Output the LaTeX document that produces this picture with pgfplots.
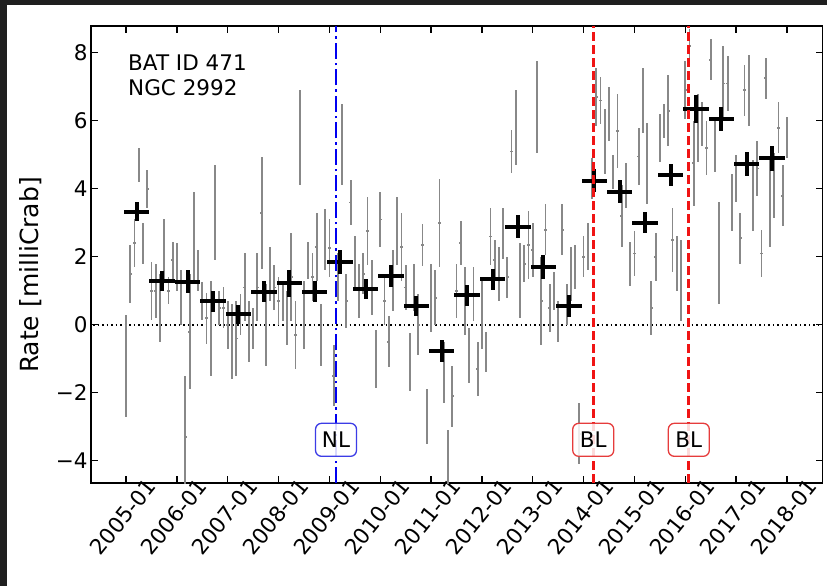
\documentclass[border=0pt]{standalone}
\usepackage{fontspec}
\setmainfont{DejaVu Sans}
\usepackage{pgfplots}
\pgfplotsset{compat=1.18}
\usepackage{pgfplotstable}

\definecolor{bgdark}{RGB}{31,31,31}
\definecolor{errgray}{RGB}{136,136,136}
\definecolor{nlbox}{RGB}{60,60,230}
\definecolor{blbox}{RGB}{230,60,60}
\definecolor{lineblue}{RGB}{0,0,240}
\definecolor{linered}{RGB}{240,20,20}

% monthly rates
\pgfplotstableread{
x y e
2005.000 -1.2 1.5
2005.083 1.5 0.85
2005.167 2.4 0.7
2005.250 4.7 0.5
2005.333 2.4 0.6
2005.417 4.0 0.55
2005.500 1.0 0.85
2005.583 1.0 0.8
2005.667 0.5 1.0
2005.750 2.2 0.9
2005.833 1.0 0.4
2005.917 1.9 0.55
2006.000 1.7 0.7
2006.083 0.8 0.8
2006.167 -3.3 1.8
2006.250 -0.2 1.7
2006.333 2.6 1.3
2006.417 1.6 0.6
2006.500 0.7 0.55
2006.583 0.2 0.75
2006.667 -0.1 1.4
2006.750 3.3 1.4
2006.833 0.5 0.5
2006.917 0.5 0.6
2007.000 0.0 0.7
2007.083 -0.5 1.1
2007.167 -0.4 1.1
2007.250 0.3 0.6
2007.333 1.1 1.0
2007.417 -0.2 0.9
2007.500 -0.1 0.6
2007.583 1.1 1.0
2007.667 3.3 1.65
2007.750 0.0 1.2
2007.833 1.5 0.8
2007.917 1.1 0.65
2008.000 0.7 0.7
2008.083 0.7 0.6
2008.167 0.2 0.8
2008.250 1.4 1.3
2008.333 -0.3 1.0
2008.417 5.5 1.4
2008.500 0.3 1.0
2008.583 1.9 0.55
2008.667 1.4 0.7
2008.750 2.3 1.0
2008.833 -0.3 0.9
2008.917 2.5 0.9
2009.000 2.25 0.85
2009.083 -1.5 0.9
2009.167 1.4 0.7
2009.250 5.3 1.2
2009.333 0.7 0.8
2009.417 3.6 0.65
2009.500 1.8 0.8
2009.583 1.0 0.8
2009.667 1.5 0.6
2009.750 2.75 1.0
2009.833 1.1 0.8
2009.917 -1.0 0.85
2010.000 3.1 0.8
2010.083 0.7 0.7
2010.167 -0.5 0.75
2010.250 1.3 0.9
2010.333 2.75 1.0
2010.417 2.3 1.0
2010.500 1.1 0.65
2010.583 -1.1 0.85
2010.667 1.1 0.7
2010.750 0.0 0.9
2010.833 2.35 0.62
2010.917 -2.7 0.8
2011.000 0.8 1.0
2011.083 0.8 0.8
2011.167 3.0 1.3
2011.250 -1.4 0.9
2011.333 -4.0 0.9
2011.417 -2.1 0.9
2011.500 1.0 0.8
2011.583 2.4 0.65
2011.667 0.7 1.0
2011.750 -0.9 0.8
2011.833 0.9 0.8
2011.917 -1.3 0.8
2012.000 0.3 1.0
2012.083 -0.8 0.6
2012.167 2.6 0.85
2012.250 1.9 0.6
2012.333 1.5 0.8
2012.417 2.7 0.75
2012.500 1.4 0.6
2012.583 5.1 0.62
2012.667 5.8 1.1
2012.750 1.3 1.1
2012.833 1.8 0.55
2012.917 2.35 1.0
2013.000 2.2 0.8
2013.083 6.4 1.35
2013.167 0.7 1.3
2013.250 2.8 0.75
2013.333 0.5 0.7
2013.417 1.0 0.55
2013.500 0.1 0.6
2013.583 2.8 0.75
2013.667 0.6 0.6
2013.750 1.5 0.8
2013.833 1.7 0.65
2013.917 -3.2 0.9
2014.000 2.0 0.6
2014.083 2.3 0.7
2014.167 4.3 0.6
2014.250 6.7 0.85
2014.333 6.6 0.7
2014.417 5.4 0.95
2014.500 6.2 0.8
2014.583 4.5 0.5
2014.667 5.7 1.1
2014.750 3.2 0.9
2014.833 4.1 0.65
2014.917 1.8 0.65
2015.000 2.1 0.65
2015.083 4.95 0.85
2015.167 6.6 0.95
2015.250 4.75 1.2
2015.333 0.5 0.8
2015.417 2.0 0.7
2015.500 5.5 0.7
2015.583 6.0 0.5
2015.667 6.3 1.05
2015.750 2.5 0.95
2015.833 1.8 0.8
2015.917 1.3 1.2
2016.000 6.9 0.85
2016.083 8.2 0.5
2016.167 4.75 1.25
2016.250 5.8 1.0
2016.333 5.9 0.65
2016.417 5.2 0.8
2016.500 7.8 0.6
2016.583 5.3 0.8
2016.667 2.1 1.5
2016.750 7.1 1.1
2016.833 7.1 0.8
2016.917 3.6 0.85
2017.000 4.3 0.7
2017.083 2.55 0.75
2017.167 6.9 0.75
2017.250 6.9 1.05
2017.333 3.8 1.05
2017.417 4.6 0.8
2017.500 2.1 0.7
2017.583 7.25 0.6
2017.667 3.6 1.3
2017.750 4.1 0.95
2017.833 5.8 0.75
2017.917 3.8 0.9
2018.000 5.5 0.6
}\monthly

% half-year bins
\pgfplotstableread{
x y e
2005.21 3.33 0.27
2005.71 1.29 0.30
2006.21 1.27 0.33
2006.71 0.69 0.30
2007.21 0.31 0.28
2007.71 0.98 0.30
2008.21 1.22 0.40
2008.71 0.98 0.30
2009.21 1.84 0.35
2009.71 1.05 0.30
2010.21 1.44 0.33
2010.71 0.56 0.30
2011.21 -0.76 0.33
2011.71 0.87 0.30
2012.21 1.34 0.30
2012.71 2.89 0.33
2013.21 1.70 0.35
2013.71 0.56 0.33
2014.21 4.24 0.33
2014.71 3.92 0.35
2015.21 3.01 0.30
2015.71 4.40 0.33
2016.21 6.35 0.40
2016.71 6.06 0.35
2017.21 4.74 0.35
2017.71 4.90 0.37
}\binned

\begin{document}
\begin{tikzpicture}
\fill[bgdark] (-91pt,-103pt) rectangle (736pt,483pt);
\fill[white] (-84pt,-103pt) rectangle (736pt,478pt);
\useasboundingbox (-91pt,-103pt) rectangle (736pt,483pt);
\begin{axis}[
  at={(0pt,0pt)}, anchor=south west,
  width=731.5pt, height=457pt, scale only axis,
  xmin=2004.31, xmax=2018.70, ymin=-4.65, ymax=8.79,
  xtick={2005,2006,2007,2008,2009,2010,2011,2012,2013,2014,2015,2016,2017,2018},
  xticklabels={2005-01,2006-01,2007-01,2008-01,2009-01,2010-01,2011-01,2012-01,2013-01,2014-01,2015-01,2016-01,2017-01,2018-01},
  ytick={-4,-2,0,2,4,6,8},
  yticklabels={−4,−2,0,2,4,6,8},
  tick align=inside,
  major tick length=7pt,
  tick style={line width=1.2pt, black},
  axis line style={line width=1.2pt},
  tick label style={font=\fontsize{21.5}{25}\selectfont},
  xticklabel style={xshift=-3pt, yshift=-34pt, rotate=51, anchor=center},
  ylabel={Rate [milliCrab]},
  ylabel style={font=\fontsize{25}{30}\selectfont, at={(axis description cs:-0.083,0.455)}, anchor=center},
  clip=true,
]
\addplot[black, line width=1.5pt, dash pattern=on 1.5pt off 3pt] coordinates {(2004,0) (2019,0)};

\addplot[draw=none, mark=none,
  error bars/.cd, x dir=both, x fixed=0.025, y dir=both, y explicit, error mark=none,
  error bar style={draw=errgray, solid, line width=1.8pt}]
  table[x=x, y=y, y error=e] {\monthly};

\addplot[draw=none, mark=none,
  error bars/.cd, x dir=both, x fixed=0.25, y dir=both, y explicit, error mark=none,
  error bar style={draw=black, solid, line width=4pt}]
  table[x=x, y=y, y error=e] {\binned};

\addplot[lineblue, line width=2.6pt, dash pattern=on 16pt off 4pt on 2.5pt off 4pt] coordinates {(2009.13,-4.65) (2009.13,8.79)};
\addplot[linered, line width=2.8pt, dash pattern=on 9pt off 4pt] coordinates {(2014.19,-4.65) (2014.19,8.79)};
\addplot[linered, line width=2.8pt, dash pattern=on 9pt off 4pt] coordinates {(2016.07,-4.65) (2016.07,8.79)};

\node[draw=nlbox, line width=1.3pt, rounded corners=6pt, fill=white, fill opacity=0.85, text opacity=1,
  minimum width=41pt, minimum height=33pt, inner sep=0pt, font=\fontsize{21.5}{25}\selectfont]
  at (axis cs:2009.13,-3.38) {NL};
\node[draw=blbox, line width=1.3pt, rounded corners=6pt, fill=white, fill opacity=0.85, text opacity=1,
  minimum width=41pt, minimum height=33pt, inner sep=0pt, font=\fontsize{21.5}{25}\selectfont]
  at (axis cs:2014.19,-3.38) {BL};
\node[draw=blbox, line width=1.3pt, rounded corners=6pt, fill=white, fill opacity=0.85, text opacity=1,
  minimum width=41pt, minimum height=33pt, inner sep=0pt, font=\fontsize{21.5}{25}\selectfont]
  at (axis cs:2016.07,-3.38) {BL};

\node[anchor=base west, inner sep=0pt, font=\fontsize{21.5}{25}\selectfont] at (axis description cs:0.0506,0.9022) {BAT ID 471};
\node[anchor=base west, inner sep=0pt, font=\fontsize{21.5}{25}\selectfont] at (axis description cs:0.0506,0.849) {NGC 2992};
\end{axis}
\end{tikzpicture}
\end{document}
